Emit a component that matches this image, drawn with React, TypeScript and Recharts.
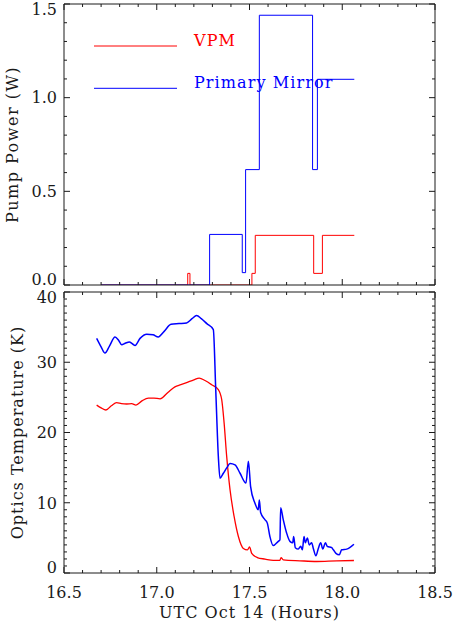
import React from 'react';
import { LineChart, Line, XAxis, YAxis } from 'recharts';

// ---------- data ----------
const timeTicks = [16.5, 16.6, 16.7, 16.8, 16.9, 17.0, 17.1, 17.2, 17.3, 17.4, 17.5, 17.6, 17.7, 17.8, 17.9, 18.0, 18.1, 18.2, 18.3, 18.4, 18.5];
const powerTicks = [0, 0.1, 0.2, 0.3, 0.4, 0.5, 0.6, 0.7, 0.8, 0.9, 1.0, 1.1, 1.2, 1.3, 1.4, 1.5];
const tempTicks = [0, 1, 2, 3, 4, 5, 6, 7, 8, 9, 10, 11, 12, 13, 14, 15, 16, 17, 18, 19, 20, 21, 22, 23, 24, 25, 26, 27, 28, 29, 30, 31, 32, 33, 34, 35, 36, 37, 38, 39, 40];

const vpmPowerTime = [16.70, 17.167, 17.179, 17.513, 17.531, 17.846, 17.893, 18.065];
const vpmPower = [0, 0.062, 0, 0.062, 0.265, 0.062, 0.265, 0.265];

const pmPowerTime = [16.70, 17.285, 17.461, 17.479, 17.553, 17.840, 17.866, 18.065];
const pmPower = [0, 0.27, 0.066, 0.616, 1.44, 0.616, 1.098, 1.098];

const pmTempTime = [16.676, 16.700, 16.721, 16.745, 16.775, 16.795, 16.811, 16.830, 16.852, 16.870, 16.883, 16.910, 16.946, 16.980, 17.008, 17.040, 17.077, 17.120, 17.161, 17.190, 17.215, 17.240, 17.270, 17.305, 17.318, 17.332, 17.341, 17.359, 17.378, 17.395, 17.422, 17.449, 17.481, 17.494, 17.506, 17.529, 17.547, 17.553, 17.560, 17.583, 17.596, 17.610, 17.628, 17.655, 17.664, 17.668, 17.682, 17.700, 17.718, 17.733, 17.738, 17.747, 17.763, 17.776, 17.785, 17.794, 17.801, 17.812, 17.822, 17.835, 17.844, 17.858, 17.871, 17.884, 17.895, 17.909, 17.919, 17.943, 17.952, 17.966, 17.984, 17.997, 18.024, 18.063];
const pmTemp = [33.4, 32.2, 31.3, 32.3, 33.6, 33.1, 32.5, 32.7, 32.9, 32.6, 32.4, 33.4, 34.0, 33.9, 33.6, 34.4, 35.4, 35.5, 35.6, 36.2, 36.65, 36.2, 35.5, 34.66, 26.1, 16.6, 13.5, 14.2, 15.0, 15.6, 15.4, 14.2, 12.8, 15.9, 12.3, 9.96, 9.0, 10.4, 8.6, 7.6, 7.1, 5.2, 3.9, 4.5, 4.7, 9.3, 7.6, 5.7, 4.5, 4.3, 5.2, 3.6, 3.4, 3.8, 3.3, 5.2, 4.3, 5.0, 4.0, 4.3, 3.5, 2.45, 3.5, 4.3, 3.4, 4.3, 3.8, 3.6, 3.3, 2.8, 2.6, 3.3, 3.4, 4.1];

const vpmTempTime = [16.676, 16.700, 16.726, 16.755, 16.784, 16.810, 16.838, 16.865, 16.888, 16.920, 16.955, 16.985, 17.018, 17.060, 17.098, 17.130, 17.161, 17.200, 17.229, 17.260, 17.296, 17.332, 17.350, 17.363, 17.377, 17.395, 17.417, 17.440, 17.467, 17.489, 17.500, 17.512, 17.542, 17.584, 17.628, 17.664, 17.670, 17.682, 17.772, 17.862, 17.970, 18.063];
const vpmTemp = [23.9, 23.5, 23.2, 23.8, 24.25, 24.1, 24.06, 24.1, 23.9, 24.5, 24.9, 24.9, 24.8, 25.7, 26.5, 26.8, 27.1, 27.5, 27.75, 27.4, 26.8, 26.1, 24.7, 21.4, 16.6, 11.86, 8.05, 5.2, 3.5, 3.3, 3.7, 2.8, 2.2, 1.98, 1.8, 1.8, 2.2, 1.88, 1.74, 1.64, 1.74, 1.78];

const seriesNames = ['VPM', 'Primary Mirror'];
const xTitle = 'UTC Oct 14 (Hours)';
const topYTitle = 'Pump Power (W)';
const bottomYTitle = 'Optics Temperature (K)';

// ---------- styling ----------
const RED = '#ff0000';
const BLUE = '#0000ff';
const INK = '#1a1a1a';
const FONT = "DejaVu Serif, Liberation Serif, serif";
const FS = 16;
const textStyle = { fontFamily: FONT, fontSize: FS };

const zip = (t: number[], v: number[]) => t.map((x, i) => ({ t: x, v: v[i] }));
const vpmPowerData = zip(vpmPowerTime, vpmPower);
const pmPowerData = zip(pmPowerTime, pmPower);
const pmTempData = zip(pmTempTime, pmTemp);
const vpmTempData = zip(vpmTempTime, vpmTemp);

const isMajor = (v: number, step: number) => Math.abs(v / step - Math.round(v / step)) < 1e-6;

const makeXTick = (side: 'bottom' | 'top', labels: boolean) => (props: any) => {
  const { x, y, payload } = props;
  const v = payload.value as number;
  const major = isMajor(v, 0.5);
  const len = major ? 6 : 3;
  const dir = side === 'bottom' ? -1 : 1;
  return (
    <g>
      <line x1={x} x2={x} y1={y} y2={y + dir * len} stroke={INK} strokeWidth={1} />
      {labels && major && (
        <text x={x} y={y + 25} textAnchor="middle" style={textStyle} fill={INK}>
          {v.toFixed(1)}
        </text>
      )}
    </g>
  );
};

const makeYTick = (side: 'left' | 'right', step: number, decimals: number, dom: [number, number], labels: boolean) => (props: any) => {
  const { x, y, payload } = props;
  const v = payload.value as number;
  const major = isMajor(v, step);
  const len = major ? 6 : 3;
  const dir = side === 'left' ? 1 : -1;
  let cy = y;
  if (Math.abs(v - dom[1]) < 1e-6) cy = y + 5.5;
  if (Math.abs(v - dom[0]) < 1e-6) cy = y - 5.5;
  return (
    <g>
      <line x1={x} x2={x + dir * len} y1={y} y2={y} stroke={INK} strokeWidth={1} />
      {labels && major && (
        <text x={x - 7} y={cy + 5.8} textAnchor="end" style={textStyle} fill={INK}>
          {v.toFixed(decimals)}
        </text>
      )}
    </g>
  );
};

const yTitle = (text: string, cx: number, spacing: number) => (props: any) => {
  const vb = props.viewBox || {};
  const cy = vb.y + vb.height / 2;
  return (
    <text
      x={cx}
      y={cy}
      transform={`rotate(-90 ${cx} ${cy})`}
      textAnchor="middle"
      dominantBaseline="central"
      style={{ ...textStyle, letterSpacing: spacing }}
      fill={INK}
    >
      {text}
    </text>
  );
};

const xTitleRender = (props: any) => {
  const vb = props.viewBox || {};
  const cx = vb.x + vb.width / 2;
  return (
    <text x={cx} y={vb.y + 45} textAnchor="middle" style={{ ...textStyle, letterSpacing: 1 }} fill={INK}>
      {xTitle}
    </text>
  );
};

const W = 455;
const axisLineStyle = { stroke: INK, strokeWidth: 1 };

const Legend = () => (
  <svg width={W} height={110} style={{ position: 'absolute', left: 0, top: 0, pointerEvents: 'none' }}>
    {seriesNames.map((name, i) => {
      const y = 46 + i * 42.3;
      const color = i === 0 ? RED : BLUE;
      return (
        <g key={name}>
          <line x1={94} x2={177} y1={y} y2={y} stroke={color} strokeWidth={1} />
          <text x={194} y={y} style={{ ...textStyle, letterSpacing: 1.1 }} fill={color}>
            {name}
          </text>
        </g>
      );
    })}
  </svg>
);

const frameAxes = (dom: [number, number], yTicks: number[], step: number, decimals: number) => [
  <XAxis
    key="xt"
    xAxisId="top"
    orientation="top"
    type="number"
    dataKey="t"
    domain={[16.5, 18.5]}
    allowDataOverflow
    ticks={timeTicks}
    interval={0}
    tickSize={0}
    tickMargin={0}
    height={1}
    axisLine={axisLineStyle}
    tickLine={false}
    tick={makeXTick('top', false)}
  />,
  <YAxis
    key="yr"
    yAxisId="right"
    orientation="right"
    type="number"
    domain={dom}
    allowDataOverflow
    ticks={yTicks}
    interval={0}
    tickSize={0}
    tickMargin={0}
    width={1}
    axisLine={axisLineStyle}
    tickLine={false}
    tick={makeYTick('right', step, decimals, dom, false)}
  />,
];

export default function App() {
  return (
    <div style={{ position: 'absolute', left: 0, top: 0, width: W, height: 623, background: '#fff' }}>
      <div style={{ position: 'absolute', left: 0, top: 0 }}>
        <LineChart width={W} height={290} margin={{ top: 3, right: 19, bottom: 4, left: 0 }}>
          <XAxis
            type="number"
            dataKey="t"
            domain={[16.5, 18.5]}
            allowDataOverflow
            ticks={timeTicks}
            interval={0}
            tickSize={0}
            tickMargin={0}
            height={1}
            axisLine={axisLineStyle}
            tickLine={false}
            tick={makeXTick('bottom', false)}
          />
          <YAxis
            type="number"
            domain={[0, 1.5]}
            allowDataOverflow
            ticks={powerTicks}
            interval={0}
            tickSize={0}
            tickMargin={0}
            width={64}
            axisLine={axisLineStyle}
            tickLine={false}
            tick={makeYTick('left', 0.5, 1, [0, 1.5], true)}
            label={{ content: yTitle(topYTitle, 12, 1.5) } as any}
          />
          {frameAxes([0, 1.5], powerTicks, 0.5, 1)}
          <Line xAxisId="top" yAxisId="right" data={pmPowerData} dataKey="v" stroke="none" strokeOpacity={0} dot={false} activeDot={false} legendType="none" isAnimationActive={false} />
          <Line data={vpmPowerData} dataKey="v" type="stepAfter" stroke={RED} strokeWidth={1} dot={false} isAnimationActive={false} />
          <Line data={pmPowerData} dataKey="v" type="stepAfter" stroke={BLUE} strokeWidth={1} dot={false} isAnimationActive={false} />
        </LineChart>
        <Legend />
      </div>
      <div style={{ position: 'absolute', left: 0, top: 280 }}>
        <LineChart width={W} height={343} margin={{ top: 11, right: 19, bottom: 0, left: 0 }}>
          <XAxis
            type="number"
            dataKey="t"
            domain={[16.5, 18.5]}
            allowDataOverflow
            ticks={timeTicks}
            interval={0}
            tickSize={0}
            tickMargin={0}
            height={50}
            axisLine={axisLineStyle}
            tickLine={false}
            tick={makeXTick('bottom', true)}
            label={{ content: xTitleRender } as any}
          />
          <YAxis
            type="number"
            domain={[0, 40]}
            allowDataOverflow
            ticks={tempTicks}
            interval={0}
            tickSize={0}
            tickMargin={0}
            width={64}
            axisLine={axisLineStyle}
            tickLine={false}
            tick={makeYTick('left', 10, 0, [0, 40], true)}
            label={{ content: yTitle(bottomYTitle, 17.5, 1) } as any}
          />
          {frameAxes([0, 40], tempTicks, 10, 0)}
          <Line xAxisId="top" yAxisId="right" data={pmTempData} dataKey="v" stroke="none" strokeOpacity={0} dot={false} activeDot={false} legendType="none" isAnimationActive={false} />
          <Line data={vpmTempData} dataKey="v" type="monotone" stroke={RED} strokeWidth={1.3} dot={false} isAnimationActive={false} />
          <Line data={pmTempData} dataKey="v" type="monotone" stroke={BLUE} strokeWidth={1.5} dot={false} isAnimationActive={false} />
        </LineChart>
      </div>
    </div>
  );
}
